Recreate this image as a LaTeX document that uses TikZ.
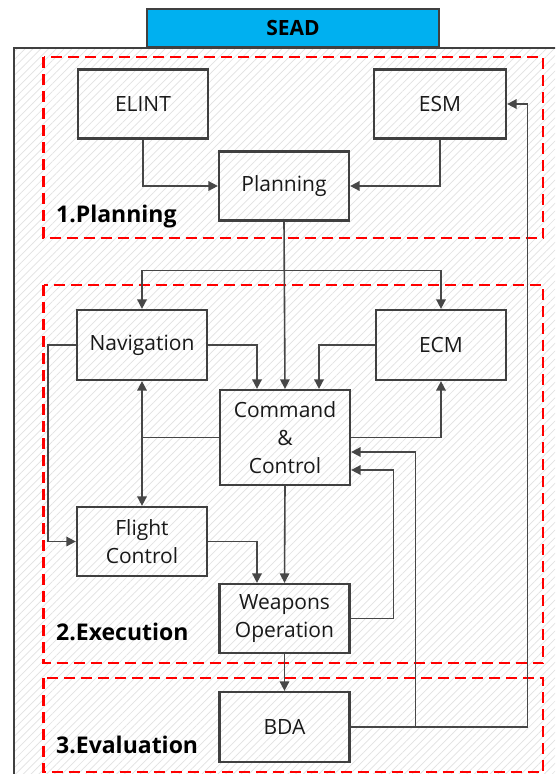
\documentclass[tikz,border=0pt]{standalone}
\usepackage{fontspec}
\setmainfont{Open Sans}
\usetikzlibrary{arrows.meta,patterns.meta,calc}
\definecolor{framegray}{HTML}{404040}
\definecolor{linegray}{HTML}{474747}
\definecolor{hatchgray}{HTML}{E2E2E2}
\definecolor{seadblue}{HTML}{00B0F0}
\definecolor{phasered}{HTML}{FF0000}
\tikzset{
  block/.style={draw=framegray, line width=2.2pt, minimum width=130pt, minimum height=69pt,
    inner sep=0pt, align=center, text=black!90,
    font=\fontsize{21}{28}\selectfont},
  link/.style={draw=linegray, line width=1.6pt},
  arr/.style={link, -{Triangle[length=9.5pt,width=9.5pt]}},
  phase/.style={draw=phasered, line width=2.2pt, dash pattern=on 11pt off 6pt},
  phaselabel/.style={anchor=west, inner sep=0pt, font=\fontsize{23}{26}\selectfont\bfseries}
}
\begin{document}
\begin{tikzpicture}[x=1pt,y=-1pt]
\useasboundingbox (0,0) rectangle (555,774);
\begin{scope}
  \clip (0,0) rectangle (555,774);
  % outer frame with light hatching
  \fill[white] (0,0) rectangle (555,774);
  \fill[pattern={Lines[angle=45,distance=5.5pt,line width=0.7pt]}, pattern color=hatchgray]
    (14,48) rectangle (580,800);
  \draw[framegray, line width=2pt] (14,48) rectangle (580,800);
\end{scope}

% title tab
\node[draw=framegray, line width=1.6pt, fill=seadblue, minimum width=292pt, minimum height=38pt,
  inner sep=0pt, font=\fontsize{21}{24}\selectfont\bfseries] (sead) at (293,28) {SEAD};

% phase regions
\draw[phase] (43.5,57) rectangle (543,238);
\draw[phase] (43.5,285) rectangle (543,663);
\draw[phase] (43.5,678) rectangle (543,772);
\node[phaselabel] (lp1) at (56,217) {1.Planning};
\node[phaselabel] (lp2) at (56,632) {2.Execution};
\node[phaselabel] (lp3) at (56,745) {3.Evaluation};

% blocks
\node[block] (elint) at (143,104) {ELINT};
\node[block, minimum width=132pt] (esm) at (440,104) {ESM};
\node[block] (plan) at (284,186) {Planning};
\node[block, minimum height=70pt] (nav) at (142,345) {Navigation};
\node[block, minimum height=70pt] (ecm) at (441,345) {ECM};
\node[block, minimum height=95pt] (cc) at (285,437.5) {Command\\\&\\Control};
\node[block] (fc) at (142,541.5) {Flight\\Control};
\node[block] (wo) at (284.5,618.5) {Weapons\\Operation};
\node[block, minimum height=70pt] (bda) at (284.5,727) {BDA};

% planning stage
\draw[arr] (elint.south) |- (plan.west);
\draw[arr] (esm.south) |- (plan.east);
\draw[arr] (plan.south) -- (cc.north);
\coordinate (split) at ($(plan.south)+(0,49)$);
\draw[arr] (split) -| (nav.north);
\draw[arr] (split) -| (ecm.north);

% execution stage
\draw[arr] (nav.east) -| ($(cc.north)+(-28,0)$);
\draw[arr] (ecm.west) -| ($(cc.north)+(34,0)$);
\draw[arr] (nav.west) -- ++(-28,0) |- (fc.west);
\coordinate (ccl) at (nav.south |- cc.west);
\draw[link] (cc.west) -- (ccl);
\draw[arr] (ccl) -- (nav.south);
\draw[arr] (ccl) -- (fc.north);
\draw[arr] (cc.east) -| (ecm.south);
\draw[arr] (fc.east) -| ($(wo.north)+(-27.5,0)$);
\draw[arr] (cc.south) -- (wo.north);
\draw[arr] (wo.east) -- ++(43,0) |- ($(cc.east)+(0,32.5)$);
\draw[arr] (wo.south) -- (bda.north);

% evaluation feedback
\coordinate (fbcc) at ($(bda.east)+(65,0)$);
\coordinate (fbesm) at ($(bda.east)+(177,0)$);
\draw[link] (bda.east) -- (fbesm);
\draw[arr] (fbcc) |- ($(cc.east)+(0,14.5)$);
\draw[arr] (fbesm) |- (esm.east);
\end{tikzpicture}
\end{document}
